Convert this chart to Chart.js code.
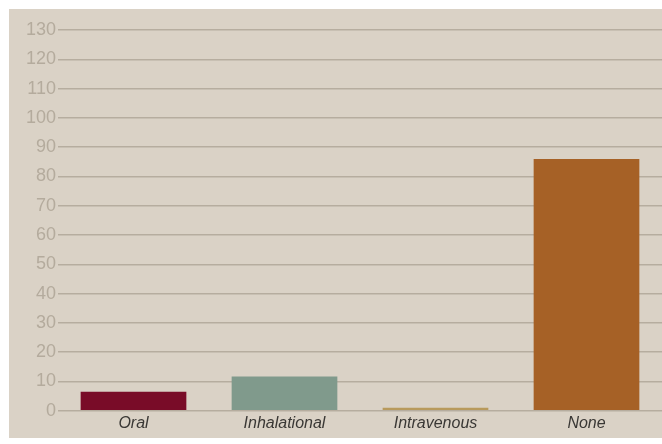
<!DOCTYPE html>
<html>
<head>
<meta charset="utf-8">
<script src="https://cdn.jsdelivr.net/npm/chart.js@4/dist/chart.umd.min.js"></script>
<style>
  html, body { margin: 0; padding: 0; background: #ffffff; }
  #box {
    position: absolute; left: 9px; top: 9px;
    width: 653px; height: 429px;
    background: #dad2c6; overflow: hidden;
  }
  #box canvas { display: block; }
</style>
</head>
<body>
<div id="box"><canvas id="routeChart" width="653" height="429"></canvas></div>
<script>
// exposure routes and their values
const routes = ['Oral', 'Inhalational', 'Intravenous', 'None'];
const routeValues = [6.5, 11.7, 1.0, 86];
const barColors = ['#790c28', '#809a8c', '#b89a5c', '#a66126'];
const yMax = 130;
const yStep = 10;

const routeData = {
  labels: routes,
  datasets: [{
    data: routeValues,
    backgroundColor: barColors,
    borderWidth: 0,
    barPercentage: 0.7,
    categoryPercentage: 1.0
  }]
};

const config = {
  type: 'bar',
  data: routeData,
  options: {
    responsive: false,
    animation: false,
    layout: { padding: { top: 21, bottom: 2, left: 0, right: 0 } },
    plugins: {
      legend: { display: false },
      tooltip: { enabled: false }
    },
    scales: {
      x: {
        grid: { display: false, drawTicks: false },
        border: { display: false },
        ticks: {
          padding: 3,
          color: '#3a3835',
          font: { family: '"Liberation Sans", Arial, sans-serif', size: 16, style: 'italic' }
        }
      },
      y: {
        min: 0,
        max: yMax,
        afterFit: function(axis) { axis.width = 49; },
        grid: { color: '#b6ad9f', lineWidth: 1.5, drawTicks: false },
        border: { display: false },
        ticks: {
          stepSize: yStep,
          padding: 2,
          color: '#b4ab9d',
          font: { family: '"Liberation Sans", Arial, sans-serif', size: 18 }
        }
      }
    }
  }
};

const routeChart = new Chart(document.getElementById('routeChart'), config);
</script>
</body>
</html>
